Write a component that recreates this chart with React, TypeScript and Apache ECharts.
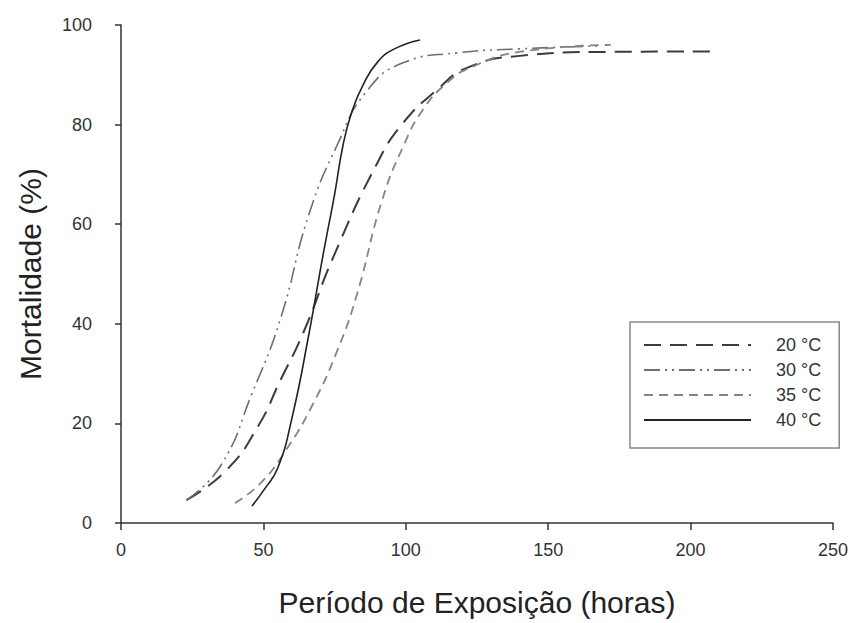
import React, { useEffect, useRef } from "react";
import * as echarts from "echarts";

const seriesNames = ["20 °C", "30 °C", "35 °C", "40 °C"];

const curve20: [number, number][] = [
  [23, 4.6], [37, 10.6], [48, 19.3], [56, 28.7], [64, 38.2], [75, 54], [90, 72.3],
  [99, 80.3], [111, 87], [121.5, 91.4], [140, 93.8], [170, 94.6], [208, 94.7],
];
const curve30: [number, number][] = [
  [23, 4.6], [35, 11.5], [46, 26], [56, 41], [66, 62], [76, 76], [86, 86.5],
  [99, 92.4], [118, 94.4], [140, 95.2], [168, 95.8],
];
const curve35: [number, number][] = [
  [40, 4], [49, 8], [58, 14.7], [67.5, 24], [76, 34.7], [83, 46.2], [91.5, 64.5],
  [99, 75.5], [106, 83], [114.5, 88.4], [122.5, 91.4], [140, 94.6], [172, 96],
];
const curve40: [number, number][] = [
  [46, 3.4], [50, 6.5], [55, 11], [60, 21], [66, 38], [71, 54], [75, 66], [78, 76],
  [81, 82.5], [85, 88], [90, 92.5], [96, 95.2], [105, 97],
];

const xTicks = [0, 50, 100, 150, 200, 250];
const yTicks = [0, 20, 40, 60, 80, 100];

const FONT = "'Liberation Sans', Arial, sans-serif";

export default function App() {
  const ref = useRef<HTMLDivElement>(null);
  useEffect(() => {
    if (!ref.current) return;
    const chart = echarts.init(ref.current, null, { renderer: "svg" });
    const mk = (name: string, data: [number, number][], color: string, width: number, type: any) => ({
      name,
      type: "line",
      data,
      smooth: 0.5,
      symbol: "none",
      showSymbol: false,
      lineStyle: { color, width, type },
      itemStyle: { color },
      z: 2,
    });
    chart.setOption({
      animation: false,
      backgroundColor: "#ffffff",
      textStyle: { fontFamily: FONT },
      grid: { left: 121, right: 23, top: 25, bottom: 100, containLabel: false },
      xAxis: {
        type: "value",
        min: xTicks[0],
        max: xTicks[xTicks.length - 1],
        interval: 50,
        name: "Período de Exposição (horas)",
        nameLocation: "middle",
        nameGap: 64,
        nameTextStyle: { fontSize: 30, color: "#222", fontFamily: FONT },
        axisLine: { show: true, lineStyle: { color: "#333", width: 1.5 } },
        axisTick: { show: true, length: 7, lineStyle: { color: "#333", width: 1.5 } },
        axisLabel: { fontSize: 18, color: "#333", margin: 18, fontFamily: FONT },
        splitLine: { show: false },
      },
      yAxis: {
        type: "value",
        min: yTicks[0],
        max: yTicks[yTicks.length - 1],
        interval: 20,
        name: "Mortalidade (%)",
        nameLocation: "middle",
        nameGap: 76,
        nameTextStyle: { fontSize: 30, color: "#222", fontFamily: FONT },
        axisLine: { show: true, lineStyle: { color: "#333", width: 1.5 } },
        axisTick: { show: true, length: 6, lineStyle: { color: "#333", width: 1.5 } },
        axisLabel: { fontSize: 18, color: "#333", margin: 29, fontFamily: FONT },
        splitLine: { show: false },
      },
      legend: {
        orient: "vertical",
        left: 630,
        top: 322,
        data: seriesNames,
        itemWidth: 107,
        itemHeight: 14,
        itemGap: 7,
        padding: [14, 18, 19, 13],
        borderColor: "#888",
        borderWidth: 1.5,
        backgroundColor: "#fff",
        itemStyle: { opacity: 0, borderWidth: 0 },
        textStyle: { fontSize: 18, color: "#333", fontFamily: FONT, padding: [0, 0, 0, 20] },
      },
      series: [
        mk(seriesNames[0], curve20, "#3c3c3c", 2, [17, 9]),
        mk(seriesNames[1], curve30, "#6e6e6e", 1.6, [16, 5, 2, 5, 2, 5]),
        mk(seriesNames[2], curve35, "#858585", 1.8, [9, 6]),
        mk(seriesNames[3], curve40, "#222222", 1.6, "solid"),
      ],
    });
    return () => chart.dispose();
  }, []);
  return (
    <div
      ref={ref}
      style={{ position: "fixed", left: 0, top: 0, width: 856, height: 623, background: "#fff" }}
    />
  );
}
